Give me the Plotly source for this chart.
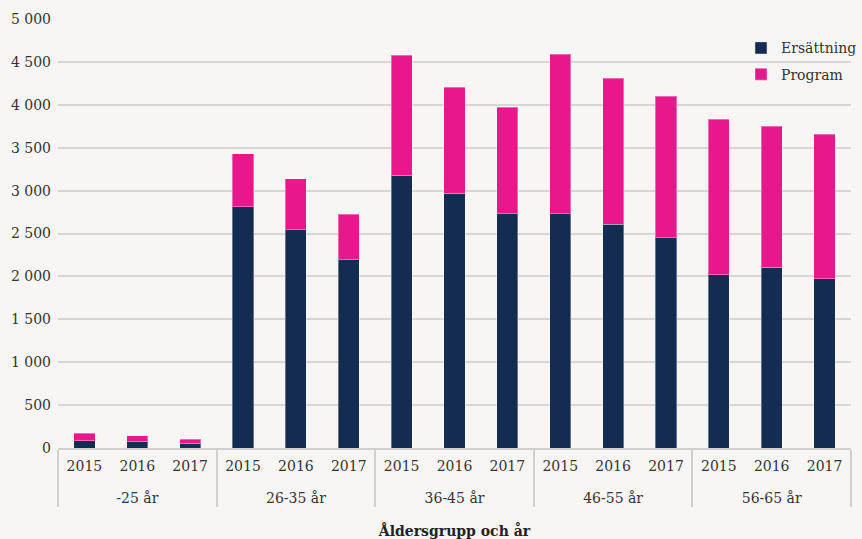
import plotly.graph_objects as go

groups = ["-25 år", "26-35 år", "36-45 år", "46-55 år", "56-65 år"]
years = ["2015", "2016", "2017"]

ersattning = [82, 73, 54,
              2811, 2543, 2195,
              3178, 2968, 2731,
              2731, 2607, 2451,
              2020, 2106, 1970]
totals = [172, 140, 101,
          3427, 3139, 2727,
          4580, 4207, 3974,
          4592, 4309, 4099,
          3834, 3749, 3656]
program = [t - e for t, e in zip(totals, ersattning)]

# group label with a small spacer line so the group row sits lower, as in the reference
group_labels = ["<span style='font-size:6px'> </span><br>" + g for g in groups]
x_group = [g for g in group_labels for _ in years]
x_year = [y for _ in groups for y in years]

FONT = "DejaVu Serif"
TXT = "#333333"
BG = "#f7f6f4"

fig = go.Figure()
fig.add_trace(go.Bar(x=[x_group, x_year], y=ersattning, name="Ersättning",
                     marker=dict(color="#142c52", line=dict(color="rgba(255,255,255,0.35)", width=1)),
                     legendgroup="a"))
fig.add_trace(go.Bar(x=[x_group, x_year], y=program, name="Program",
                     marker=dict(color="#e8178c", line=dict(color="rgba(255,255,255,0.35)", width=1)),
                     legendgroup="b"))

fig.update_layout(
    barmode="stack",
    bargap=0.6,
    width=862, height=539,
    margin=dict(l=58, r=11, t=19, b=91, autoexpand=False),
    paper_bgcolor=BG, plot_bgcolor=BG,
    font=dict(family=FONT, size=14, color=TXT),
    separators=", ",
    legend=dict(xref="container", yref="container", x=1.006, xanchor="right",
                y=0.940, yanchor="top", traceorder="grouped", tracegroupgap=5,
                bgcolor="rgba(0,0,0,0)", font=dict(size=14, color=TXT)),
    showlegend=True,
)
fig.update_yaxes(range=[0, 5000], dtick=500, tickformat=",d",
                 showgrid=True, gridcolor="#d6d6d6", gridwidth=2,
                 zeroline=False, showline=False, ticklabelstandoff=6,
                 tickfont=dict(size=14, color=TXT))
fig.update_xaxes(type="multicategory", showline=True, linecolor="#d0d0d0", linewidth=2,
                 showdividers=True, dividercolor="#d0d0d0", dividerwidth=2,
                 ticklabelstandoff=4,
                 tickfont=dict(size=14, color=TXT),
                 title=dict(text="<b>Åldersgrupp och år</b>", font=dict(size=14, color="#222"), standoff=21))

fig.write_html("out.html", config={"displayModeBar": False},
               post_script="document.body.style.margin='0';document.body.style.background='#f7f6f4';")
